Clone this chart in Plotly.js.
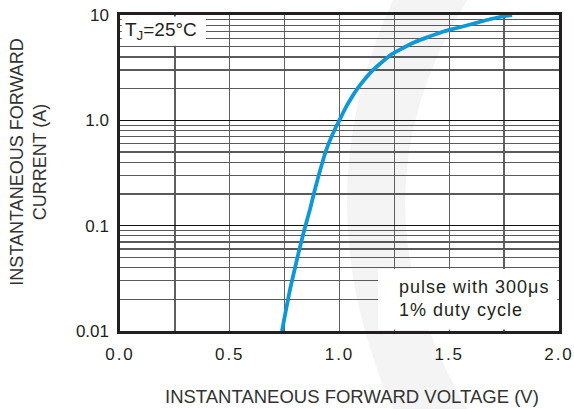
<!DOCTYPE html>
<html>
<head>
<meta charset="utf-8">
<script src="https://cdn.plot.ly/plotly-3.0.1.min.js"></script>
<style>
html,body{margin:0;padding:0;background:#fff;}
#chart{width:574px;height:409px;}
.xtick text{letter-spacing:2px;}
.annotation.pulse text{letter-spacing:1px;}
</style>
</head>
<body>
<div id="chart"></div>
<script>
// Forward voltage (V) and current (A)
const voltage = [0.738, 0.756, 0.774, 0.793, 0.811, 0.829, 0.847, 0.866, 0.884, 0.902, 0.920, 0.938, 0.961, 0.984, 1.007, 1.030, 1.057, 1.084, 1.116, 1.153, 1.194, 1.239, 1.289, 1.344, 1.403, 1.467, 1.535, 1.604, 1.672, 1.731, 1.786];
const current = [0.01, 0.0158, 0.0245, 0.0363, 0.0526, 0.0747, 0.1037, 0.144, 0.204, 0.283, 0.385, 0.512, 0.679, 0.865, 1.076, 1.34, 1.67, 2.03, 2.47, 3.01, 3.58, 4.26, 4.86, 5.54, 6.18, 6.90, 7.53, 8.22, 8.97, 9.57, 10];

const yTickVals = [0.01, 0.1, 1, 10];
const yTickText = ["0.01", "0.1", "1.0", "10"];
const yMinorVals = [0.02,0.03,0.04,0.05,0.06,0.07,0.08,0.09,0.2,0.3,0.4,0.5,0.6,0.7,0.8,0.9,2,3,4,5,6,7,8,9];
const xTickVals = [0, 0.5, 1.0, 1.5, 2.0];
const xTickText = ["0.0", "0.5", "1.0", "1.5", "2.0"];

const FONT = "Liberation Sans, Arial, sans-serif";
const TXT = "#231f20";

const trace = {
  x: voltage, y: current, type: "scatter", mode: "lines",
  line: {color: "#0f98d8", width: 3.8, shape: "spline", smoothing: 0.6},
  hoverinfo: "skip", showlegend: false
};

const layout = {
  width: 574, height: 409,
  margin: {l: 120, r: 15, t: 15, b: 78},
  paper_bgcolor: "#ffffff",
  plot_bgcolor: "rgba(0,0,0,0)",
  font: {family: FONT, color: TXT, size: 17},
  xaxis: {
    range: [0, 2], tickmode: "array", tickvals: xTickVals, ticktext: xTickText,
    ticks: "outside", ticklen: 6, tickcolor: "rgba(0,0,0,0)",
    tickfont: {family: FONT, size: 17, color: TXT},
    showgrid: true, gridcolor: "#5f5f5f", gridwidth: 1.3,
    minor: {dtick: 0.25, tick0: 0, showgrid: true, gridcolor: "#5f5f5f", gridwidth: 1.3, ticks: ""},
    showline: true, mirror: true, linecolor: "#231f20", linewidth: 2.6,
    zeroline: false, fixedrange: true
  },
  yaxis: {
    type: "log", range: [-2, 1], tickmode: "array", tickvals: yTickVals, ticktext: yTickText,
    ticks: "outside", ticklen: 5, tickcolor: "rgba(0,0,0,0)",
    tickfont: {family: FONT, size: 17, color: TXT},
    showgrid: true, gridcolor: "#111111", gridwidth: 1.6,
    minor: {tickmode: "array", tickvals: yMinorVals, showgrid: true, gridcolor: "#5a5a5a", gridwidth: 1.2, ticks: ""},
    showline: true, mirror: true, linecolor: "#231f20", linewidth: 2.6,
    zeroline: false, fixedrange: true
  },
  shapes: [
    {type: "path", xref: "paper", yref: "paper", layer: "below",
     path: "M 0.626,1.06 Q 0.408,0.415 0.626,-0.26 L 0.797,-0.26 Q 0.502,0.415 0.797,1.06 Z",
     fillcolor: "#f4f4f4", line: {width: 0}},
    {type: "rect", xref: "paper", yref: "paper", layer: "above",
     x0: 0.004, x1: 0.196, y0: 0.903, y1: 0.995, fillcolor: "#ffffff", line: {width: 0}},
    {type: "rect", xref: "paper", yref: "paper", layer: "above",
     x0: 0.588, x1: 0.996, y0: 0.005, y1: 0.196, fillcolor: "#ffffff", line: {width: 0}}
  ],
  annotations: [
    {xref: "paper", yref: "paper", x: -0.208, y: 0.535, xanchor: "center", yanchor: "middle",
     textangle: -90, showarrow: false, align: "center",
     text: "INSTANTANEOUS FORWARD<br>CURRENT (A)", font: {family: FONT, size: 18, color: "#333"}},
    {xref: "paper", yref: "paper", x: 0.528, y: -0.206, xanchor: "center", yanchor: "middle",
     showarrow: false, text: "INSTANTANEOUS FORWARD VOLTAGE (V)",
     font: {family: FONT, size: 18.5, color: "#333"}},
    {xref: "paper", yref: "paper", x: 0.093, y: 0.949, xanchor: "center", yanchor: "middle",
     showarrow: false, text: "T<sub>J</sub>=25°C", font: {family: FONT, size: 19, color: TXT}},
    {xref: "paper", yref: "paper", x: 0.63, y: 0.104, xanchor: "left", yanchor: "middle",
     showarrow: false, align: "left", text: "pulse with 300μs<br>1% duty cycle",
     font: {family: FONT, size: 18, color: TXT}}
  ]
};

Plotly.newPlot("chart", [trace], layout, {staticPlot: true, displayModeBar: false}).then(function(){
  const anns = document.querySelectorAll(".annotation");
  if (anns.length >= 4) anns[3].classList.add("pulse");
});
</script>
</body>
</html>
